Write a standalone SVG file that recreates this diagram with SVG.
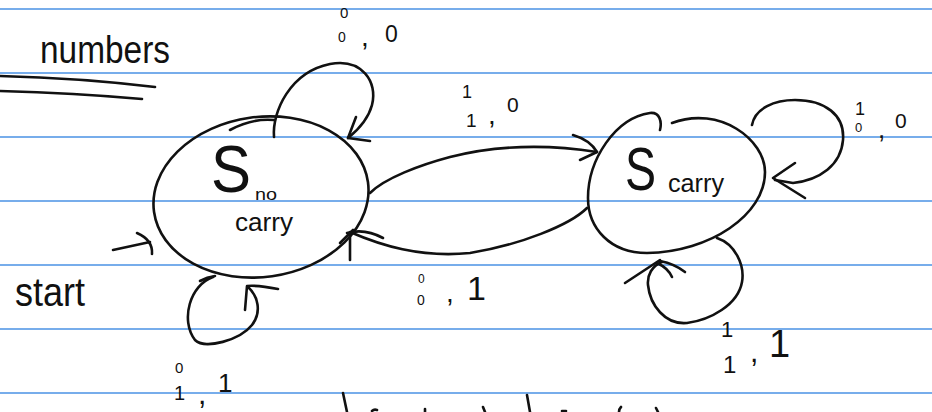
<svg xmlns="http://www.w3.org/2000/svg" width="932" height="412" viewBox="0 0 932 412">
  <defs>
    <style>
      .rule { stroke: #4a92e4; stroke-width: 1.6; }
      .ink { fill: none; stroke: #111; stroke-width: 2.6; stroke-linecap: round; stroke-linejoin: round; }
      .hand { font-family: "Liberation Sans", "DejaVu Sans", sans-serif; fill: #111; }
    </style>
  </defs>
  <rect width="932" height="412" fill="#ffffff"/>

  <!-- ruled paper -->
  <g id="paper-lines">
    <line class="rule" x1="0" y1="9" x2="932" y2="9"/>
    <line class="rule" x1="0" y1="73" x2="932" y2="73"/>
    <line class="rule" x1="0" y1="137" x2="932" y2="137"/>
    <line class="rule" x1="0" y1="201" x2="932" y2="201"/>
    <line class="rule" x1="0" y1="265" x2="932" y2="265"/>
    <line class="rule" x1="0" y1="329" x2="932" y2="329"/>
    <line class="rule" x1="0" y1="393" x2="932" y2="393"/>
  </g>

  <!-- heading -->
  <g id="heading">
    <text class="hand" x="40" y="63" font-size="38" textLength="130" lengthAdjust="spacingAndGlyphs">numbers</text>
    <path class="ink" d="M0,76 Q80,78 155,87"/>
    <path class="ink" d="M0,91 Q75,93 142,99"/>
  </g>

  <!-- state: no carry -->
  <g id="s-nocarry">
    <ellipse class="ink" cx="261" cy="197" rx="108" ry="80" transform="rotate(-8 261 197)"/>
    <path class="ink" d="M230,130 Q252,118 274,120"/>
    <text class="hand" x="211" y="192" font-size="66" textLength="40" lengthAdjust="spacingAndGlyphs">S</text>
    <text class="hand" x="255" y="200" font-size="16" textLength="22" lengthAdjust="spacingAndGlyphs">no</text>
    <text class="hand" x="235" y="231" font-size="26" textLength="58" lengthAdjust="spacingAndGlyphs">carry</text>
  </g>

  <!-- state: carry -->
  <g id="s-carry">
    <path class="ink" d="M672,123 C720,105 765,140 765,172 C765,215 710,252 647,253 C610,253 588,228 588,198 C588,160 615,118 650,113 C660,112 662,122 660,130"/>
    <text class="hand" x="625" y="190" font-size="62" textLength="31" lengthAdjust="spacingAndGlyphs">S</text>
    <text class="hand" x="668" y="192" font-size="25" textLength="56" lengthAdjust="spacingAndGlyphs">carry</text>
  </g>

  <!-- start marker -->
  <g id="start">
    <text class="hand" x="15" y="306" font-size="40" textLength="70" lengthAdjust="spacingAndGlyphs">start</text>
  </g>

  <!-- transitions -->
  <g id="connectors">
    <!-- entry arrow -->
    <path class="ink" d="M113,250 L150,242"/>
    <path class="ink" d="M137,233 Q153,240 152,254"/>

    <!-- no carry self-loop, top -->
    <path class="ink" d="M274,137 C272,112 290,72 330,64 C362,58 378,82 372,105 C368,120 358,130 348,138"/>
    <path class="ink" d="M356,117 L348,138 L370,141"/>

    <!-- no carry to carry -->
    <path class="ink" d="M370,193 C385,178 420,165 450,157 C490,147 540,143 597,152"/>
    <path class="ink" d="M573,135 Q590,140 597,152 L580,160"/>

    <!-- carry to no carry -->
    <path class="ink" d="M587,208 C570,225 520,245 470,253 C420,258 380,245 350,232"/>
    <path class="ink" d="M350,233 L350,260"/>
    <path class="ink" d="M347,233 Q365,228 383,238"/>
    <path class="ink" d="M340,243 L353,230"/>

    <!-- no carry self-loop, bottom -->
    <path class="ink" d="M213,277 C190,285 180,320 195,340 C205,350 240,340 252,325 C262,312 258,296 248,287"/>
    <path class="ink" d="M200,281 Q207,277 215,276"/>
    <path class="ink" d="M245,310 L247,286 Q258,285 278,289"/>

    <!-- carry self-loop, right -->
    <path class="ink" d="M752,125 C755,108 775,100 795,100 C825,100 845,115 843,140 C841,165 820,180 793,183 L775,180"/>
    <path class="ink" d="M795,163 L773,178 L805,198"/>

    <!-- carry self-loop, bottom -->
    <path class="ink" d="M717,238 C735,244 745,265 742,282 C738,305 710,320 687,323 C665,325 650,305 648,285 C647,275 652,266 662,262"/>
    <path class="ink" d="M625,283 L660,260"/>
    <path class="ink" d="M660,261 Q675,264 685,272"/>
    <path class="ink" d="M657,263 Q668,268 672,277"/>
  </g>

  <!-- transition labels: input bits stacked, then output -->
  <g id="label-loop-nocarry-top">
    <text class="hand" x="340" y="18" font-size="15">0</text>
    <text class="hand" y="42"><tspan x="338" font-size="14">0</tspan><tspan x="361" y="46" font-size="28">,</tspan><tspan x="385" y="42" font-size="23">0</tspan></text>
  </g>
  <g id="label-to-carry">
    <text class="hand" x="462" y="98" font-size="18">1</text>
    <text class="hand" y="127"><tspan x="466" font-size="19">1</tspan><tspan x="488" y="124" font-size="28">,</tspan><tspan x="507" y="112" font-size="21">0</tspan></text>
  </g>
  <g id="label-to-nocarry">
    <text class="hand" x="418" y="283" font-size="12">0</text>
    <text class="hand" y="305"><tspan x="417" font-size="14">0</tspan><tspan x="446" y="302" font-size="28">,</tspan><tspan x="467" y="300" font-size="34">1</tspan></text>
  </g>
  <g id="label-loop-nocarry-bottom">
    <text class="hand" x="175" y="373" font-size="15">0</text>
    <text class="hand" y="400"><tspan x="174" font-size="20">1</tspan><tspan x="198" y="404" font-size="30">,</tspan><tspan x="218" y="392" font-size="26">1</tspan></text>
  </g>
  <g id="label-loop-carry-right">
    <text class="hand" x="855" y="115" font-size="18">1</text>
    <text class="hand" y="132"><tspan x="855" font-size="13">0</tspan><tspan x="878" y="138" font-size="26">,</tspan><tspan x="895" y="128" font-size="21">0</tspan></text>
  </g>
  <g id="label-loop-carry-bottom">
    <text class="hand" x="721" y="337" font-size="22">1</text>
    <text class="hand" y="373"><tspan x="723" font-size="24">1</tspan><tspan x="750" y="362" font-size="30">,</tspan><tspan x="769" y="357" font-size="38">1</tspan></text>
  </g>

  <!-- strokes of the next line, cut at the page edge -->
  <g id="page-edge">
    <path class="ink" d="M343,393 L347,412"/>
    <path class="ink" d="M527,395 L530,412"/>
    <path class="ink" d="M372,411 Q374,409 377,410"/>
    <path class="ink" d="M425,409 L425,412"/>
    <path class="ink" d="M483,407 L485,412"/>
    <path class="ink" d="M562,411 L566,411"/>
    <path class="ink" d="M621,407 Q619,409 619,412"/>
    <path class="ink" d="M656,408 L658,412"/>
  </g>
</svg>
